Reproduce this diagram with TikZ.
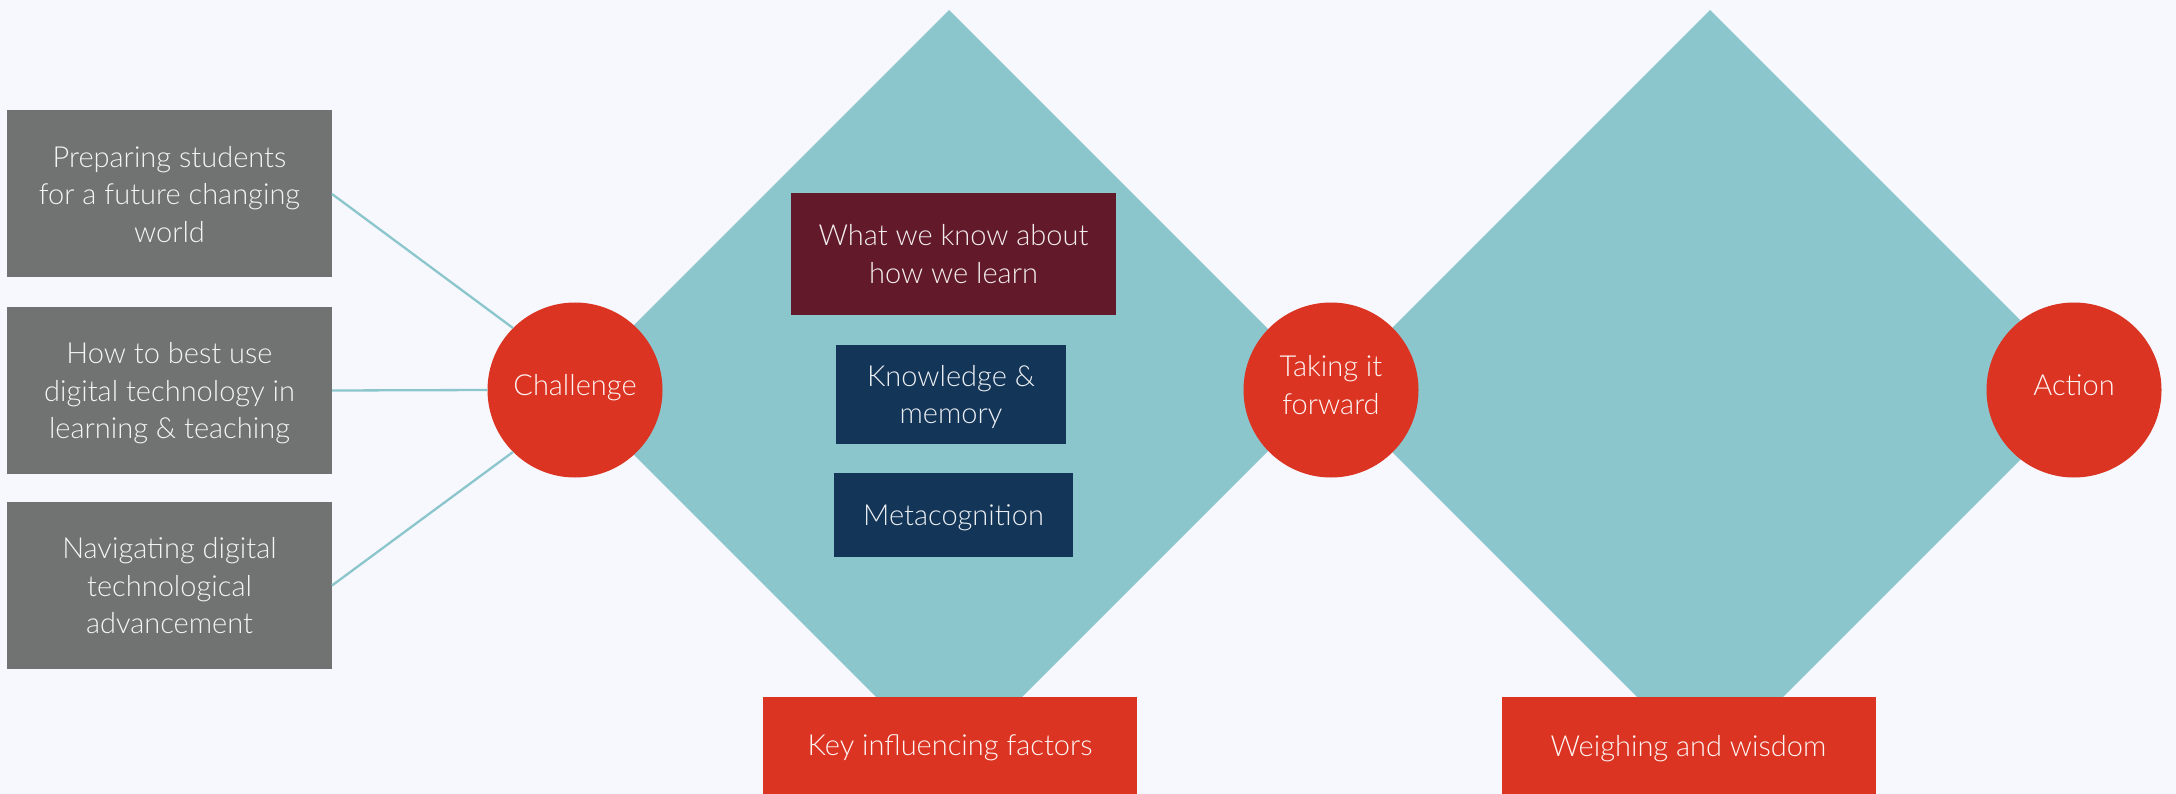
\documentclass[tikz,border=0pt]{standalone}
\usepackage{fontspec}
\IfFontExistsTF{Lato Light}{\setmainfont{Lato Light}}{\setmainfont{Carlito}}
\definecolor{bg}{HTML}{F6F8FD}
\definecolor{tealfill}{HTML}{8CC6CD}
\definecolor{boxgray}{HTML}{717372}
\definecolor{accentred}{HTML}{DC3422}
\definecolor{wine}{HTML}{621A2B}
\definecolor{navy}{HTML}{133558}
\begin{document}
\begin{tikzpicture}[x=1pt,y=-1pt,
  base/.style={inner sep=0pt, outer sep=0pt, align=center, text depth=0pt,
    font=\fontsize{29}{37.5}\selectfont, text=white},
  graybox/.style={base, fill=boxgray, minimum width=325pt, minimum height=167pt, text=white!92!boxgray},
  stagecircle/.style={base, circle, fill=accentred, minimum size=175pt},
  stagetext/.style={base, text=white!95!accentred},
  redbox/.style={base, fill=accentred, minimum width=374pt, minimum height=97pt, text=white!95!accentred},
  winebox/.style={base, fill=wine, text=white!92!wine},
  navybox/.style={base, fill=navy, text=white!92!navy},
  link/.style={draw=tealfill, line width=2.3pt}]
\useasboundingbox (0,0) rectangle (2176,794);
\fill[bg] (0,0) rectangle (2176,794);
% diamonds
\fill[tealfill] (949,10) -- (1329,390) -- (949,770) -- (569,390) -- cycle;
\fill[tealfill] (1710,10) -- (2090,390) -- (1710,770) -- (1330,390) -- cycle;
% left boxes
\node[graybox] (g1) at (169.5,194) {Preparing students\\for a future changing\\world};
\node[graybox] (g2) at (169.5,390.5) {How to best use\\digital technology in\\learning \& teaching};
\node[graybox] (g3) at (169.5,585.5) {Navigating digital\\technological\\advancement};
% circles
\node[stagecircle] (ch) at (575,390) {};
\node[stagetext] (chtext) at (575,385) {Challenge};
\node[stagecircle] (tf) at (1331,390) {};
\node[stagetext] (tftext) at (1331,385) {Taking it\\forward};
\node[stagecircle] (ac) at (2074,390) {};
\node[stagetext] (actext) at (2074,385) {Action};
% inner boxes
\node[winebox, minimum width=325pt, minimum height=122pt] (w1) at (953.5,254) {What we know about\\how we learn};
\node[navybox, minimum width=230pt, minimum height=99pt] (k1) at (951,394.5) {Knowledge \&\\memory};
\node[navybox, minimum width=239pt, minimum height=84pt] (m1) at (953.5,515) {Metacognition};
% bottom boxes
\node[redbox] (kf) at (950,745.5) {Key influencing factors};
\node[redbox] (ww) at (1688.5,745.5) {Weighing and wisdom};
% connectors
\draw[link] (g1.east) -- (ch.135);
\draw[link] (g2.east) -- (ch.west);
\draw[link] (g3.east) -- (ch.225);
\end{tikzpicture}
\end{document}
